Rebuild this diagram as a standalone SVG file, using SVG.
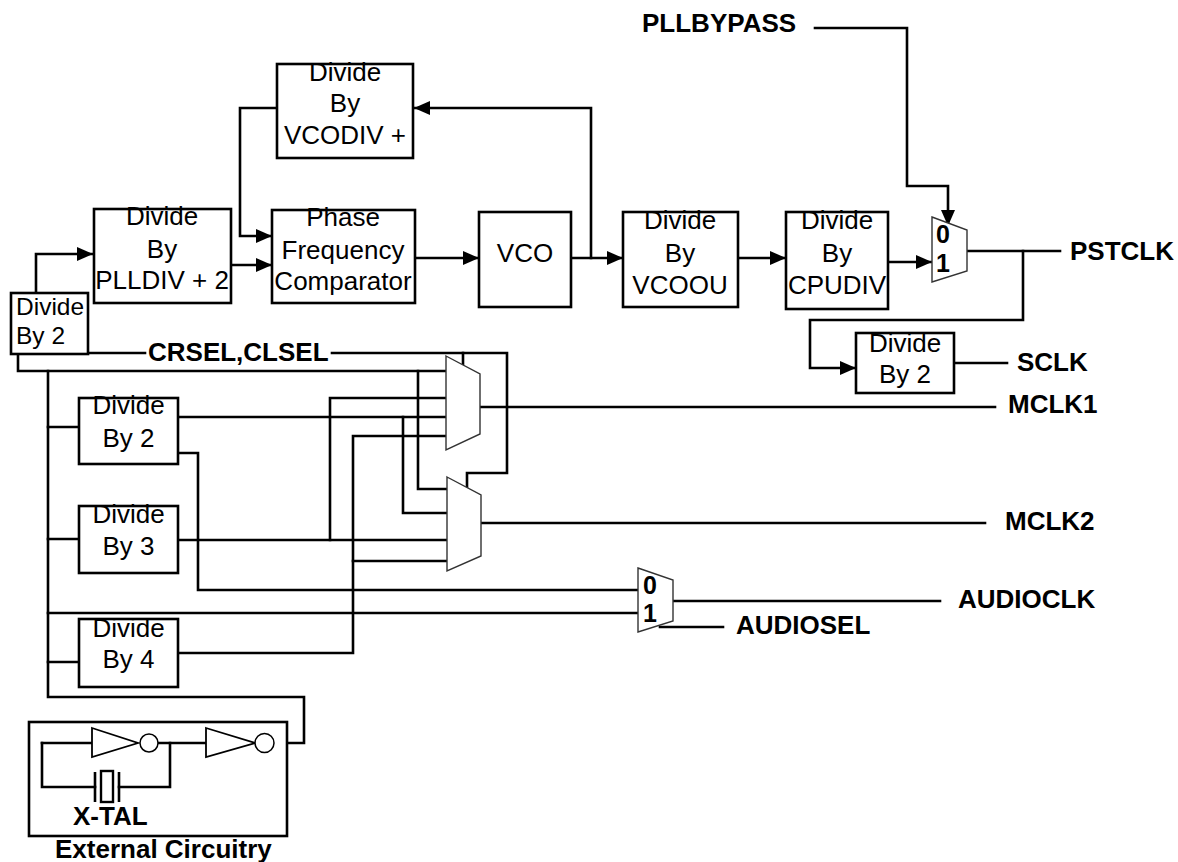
<svg xmlns="http://www.w3.org/2000/svg" width="1178" height="862" viewBox="0 0 1178 862">
<style>
.w{fill:none;stroke:#000;stroke-width:2.6;stroke-linecap:square}
.b{fill:#fff;stroke:#000;stroke-width:2.6}
.m{fill:#fff;stroke:#333;stroke-width:1.4}
.t{font-family:"Liberation Sans",Arial,sans-serif;font-size:26px;fill:#000}
.s{font-size:24.5px}
.c{text-anchor:middle}
.l{font-family:"Liberation Sans",Arial,sans-serif;font-size:26px;font-weight:bold;fill:#000}
.d{font-family:"Liberation Sans",Arial,sans-serif;font-size:25px;font-weight:bold;fill:#000}
</style>
<defs>
<marker id="ar" markerUnits="userSpaceOnUse" markerWidth="16" markerHeight="14" refX="16" refY="7" orient="auto" viewBox="0 0 16 14">
<path d="M0,0 L16,7 L0,14 z" fill="#000"/>
</marker>
</defs>
<rect width="1178" height="862" fill="#fff"/>
<g id="connectors">
<polyline class="w" points="36,293 36,254 93,254" marker-end="url(#ar)"/>
<polyline class="w" points="231,265 272,265" marker-end="url(#ar)"/>
<polyline class="w" points="277,108 240,108 240,236 272,236" marker-end="url(#ar)"/>
<polyline class="w" points="415,258 479,258" marker-end="url(#ar)"/>
<polyline class="w" points="571,258 623,258" marker-end="url(#ar)"/>
<polyline class="w" points="591,258 591,108 414,108" marker-end="url(#ar)"/>
<polyline class="w" points="738,258 786,258" marker-end="url(#ar)"/>
<polyline class="w" points="888,262 932,262" marker-end="url(#ar)"/>
<polyline class="w" points="815,28 907,28 907,186 948,186 948,226" marker-end="url(#ar)"/>
<polyline class="w" points="967,251 1060,251"/>
<polyline class="w" points="1023,251 1023,320 810,320 810,368 856,368" marker-end="url(#ar)"/>
<polyline class="w" points="954,363 1007,363"/>
<polyline class="w" points="88,353 145,353"/>
<polyline class="w" points="332,353 507,353 507,473 467,473 467,488"/>
<polyline class="w" points="463,353 463,365"/>
<polyline class="w" points="275,743 304,743 304,697 48,697 48,371"/>
<polyline class="w" points="18,354 18,371 446,371"/>
<polyline class="w" points="48,427 79,427"/>
<polyline class="w" points="48,539 79,539"/>
<polyline class="w" points="48,662 79,662"/>
<polyline class="w" points="48,613 638,613"/>
<polyline class="w" points="418,371 418,489 447,489"/>
<polyline class="w" points="178,417 446,417"/>
<polyline class="w" points="403,417 403,513 447,513"/>
<polyline class="w" points="178,453 198,453 198,590 638,590"/>
<polyline class="w" points="178,540 447,540"/>
<polyline class="w" points="330,540 330,398 446,398"/>
<polyline class="w" points="178,653 353,653 353,436 446,436"/>
<polyline class="w" points="353,561 447,561"/>
<polyline class="w" points="480,407 995,407"/>
<polyline class="w" points="481,523 985,523"/>
<polyline class="w" points="673,601 940,601"/>
<polyline class="w" points="660,627 723,627"/>
</g>
<g id="div2_ref">
<rect class="b" x="11" y="293" width="77" height="61"/>
<text class="t s" x="16" y="315">Divide</text>
<text class="t s" x="16" y="344">By 2</text>
</g>
<g id="div_plldiv">
<rect class="b" x="94" y="209" width="137" height="94"/>
<text class="t c" x="162" y="225">Divide</text>
<text class="t c" x="162" y="258">By</text>
<text class="t c" x="162" y="289">PLLDIV + 2</text>
</g>
<g id="pfc">
<rect class="b" x="272" y="210" width="143" height="93"/>
<text class="t c" x="343" y="226">Phase</text>
<text class="t c" x="343" y="259">Frequency</text>
<text class="t c" x="343" y="290">Comparator</text>
</g>
<g id="div_vcodiv">
<rect class="b" x="277" y="64" width="136" height="94"/>
<text class="t c" x="345" y="81">Divide</text>
<text class="t c" x="345" y="112">By</text>
<text class="t c" x="345" y="144">VCODIV +</text>
</g>
<g id="vco">
<rect class="b" x="479" y="212" width="92" height="95"/>
<text class="t c" x="525" y="262">VCO</text>
</g>
<g id="div_vcoou">
<rect class="b" x="623" y="212" width="115" height="95"/>
<text class="t c" x="680" y="229">Divide</text>
<text class="t c" x="680" y="262">By</text>
<text class="t c" x="680" y="294">VCOOU</text>
</g>
<g id="div_cpudiv">
<rect class="b" x="786" y="212" width="102" height="97"/>
<text class="t c" x="837" y="229">Divide</text>
<text class="t c" x="837" y="262">By</text>
<text class="t c" x="837" y="294">CPUDIV</text>
</g>
<g id="mux_pll">
<polygon class="m" points="932,217 967,230 967,271 932,282"/>
<text class="d" x="936" y="243">0</text>
<text class="d" x="936" y="272">1</text>
</g>
<g id="div2_sclk">
<rect class="b" x="856" y="333" width="98" height="60"/>
<text class="t c" x="905" y="352">Divide</text>
<text class="t c" x="905" y="383">By 2</text>
</g>
<g id="div2">
<rect class="b" x="79" y="398" width="99" height="66"/>
<text class="t c" x="128.5" y="414">Divide</text>
<text class="t c" x="128.5" y="447">By 2</text>
</g>
<g id="div3">
<rect class="b" x="79" y="506" width="99" height="67"/>
<text class="t c" x="128.5" y="523">Divide</text>
<text class="t c" x="128.5" y="555">By 3</text>
</g>
<g id="div4">
<rect class="b" x="79" y="619" width="99" height="68"/>
<text class="t c" x="128.5" y="637">Divide</text>
<text class="t c" x="128.5" y="668">By 4</text>
</g>
<g id="mux1">
<polygon class="m" points="446,356 480,374 480,434 446,450"/>
</g>
<g id="mux2">
<polygon class="m" points="447,477 481,495 481,556 447,571"/>
</g>
<g id="mux_audio">
<polygon class="m" points="638,568 673,580 673,621 638,632"/>
<text class="d" x="643" y="594">0</text>
<text class="d" x="643" y="622">1</text>
</g>
<g id="labels">
<text class="l" x="642" y="32">PLLBYPASS</text>
<text class="l" x="1070" y="260">PSTCLK</text>
<text class="l" x="1017" y="371">SCLK</text>
<text class="l" x="1008" y="413">MCLK1</text>
<text class="l" x="1005" y="530">MCLK2</text>
<text class="l" x="958" y="608">AUDIOCLK</text>
<text class="l" x="736" y="634">AUDIOSEL</text>
<text class="l" x="148" y="361">CRSEL,CLSEL</text>
</g>
<g id="external_circuitry">
<rect class="b" x="29" y="722" width="258" height="114" fill="none"/>
<polyline class="w" points="42,743 92,743"/>
<polyline class="w" points="42,743 42,787 95,787"/>
<polyline class="w" points="119,787 170,787 170,743"/>
<polyline class="w" points="158,743 206,743"/>
<polygon points="92,728 138,743 92,757" fill="#fff" stroke="#000" stroke-width="1.8"/>
<circle cx="149" cy="743" r="9" fill="#fff" stroke="#000" stroke-width="1.5"/>
<polygon points="206,728 255,743 206,757" fill="#fff" stroke="#000" stroke-width="1.8"/>
<circle cx="264.5" cy="743" r="9.5" fill="#fff" stroke="#000" stroke-width="1.5"/>
<line x1="95" y1="772" x2="95" y2="802" stroke="#000" stroke-width="2.6"/>
<line x1="119" y1="772" x2="119" y2="802" stroke="#000" stroke-width="2.6"/>
<rect x="101" y="771" width="12" height="31" fill="#fff" stroke="#000" stroke-width="2.4"/>
<text class="l" x="73" y="825">X-TAL</text>
<text class="l" x="55" y="858">External Circuitry</text>
</g>
</svg>
